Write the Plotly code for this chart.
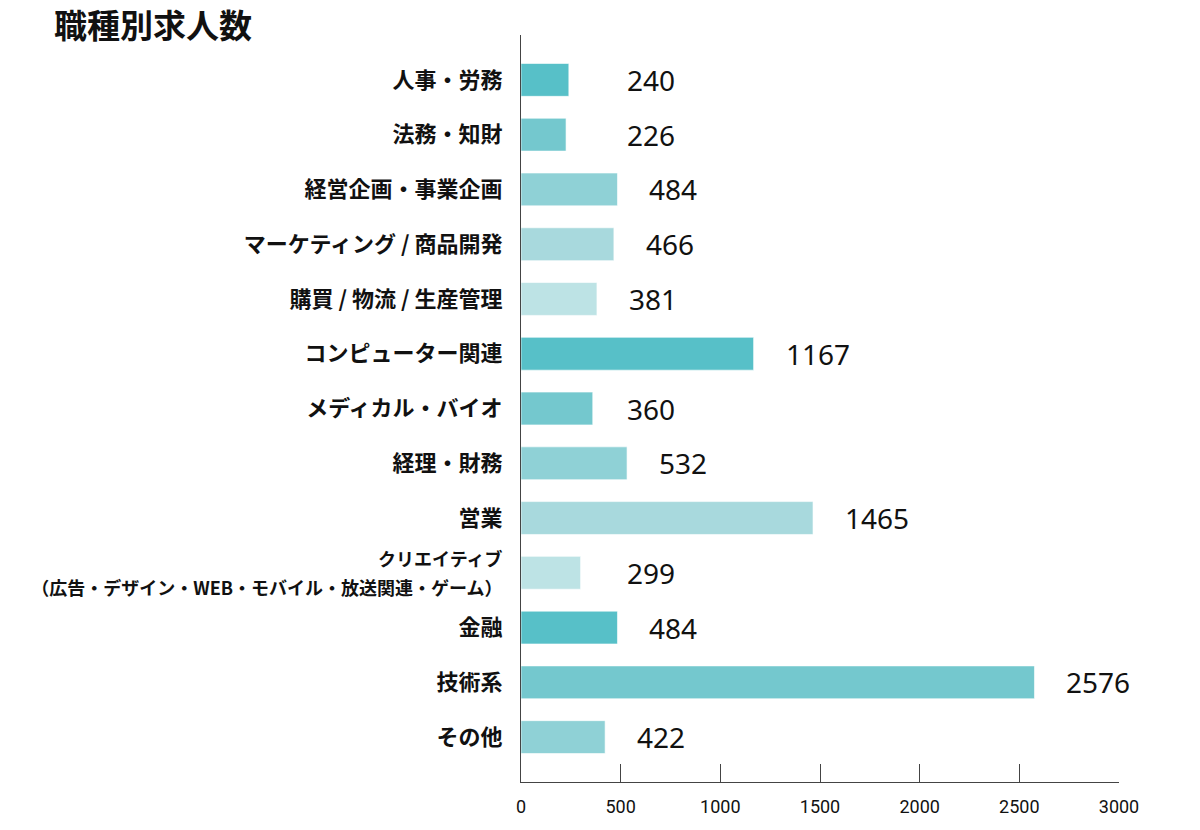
import plotly.graph_objects as go

categories = [
    "人事・労務",
    "法務・知財",
    "経営企画・事業企画",
    "マーケティング / 商品開発",
    "購買 / 物流 / 生産管理",
    "コンピューター関連",
    "メディカル・バイオ",
    "経理・財務",
    "営業",
    "クリエイティブ<br>（広告・デザイン・WEB・モバイル・放送関連・ゲーム）",
    "金融",
    "技術系",
    "その他",
]
values = [240, 226, 484, 466, 381, 1167, 360, 532, 1465, 299, 484, 2576, 422]
palette = ["#57c0c8", "#74c8ce", "#8fd1d6", "#a8d9dd", "#bde3e5"]
tick_vals = [0, 500, 1000, 1500, 2000, 2500, 3000]

colors = [palette[i % len(palette)] for i in range(len(values))]
idx = list(range(len(categories)))


def label(c):
    if "<br>" in c:
        return "<b><span style='font-size:18px'>" + c + "</span></b>"
    return "<b>" + c + "</b>"


L, R, T, B = 513, 89, 27, 56
PW, PH = 1200 - L - R, 830 - T - B

fig = go.Figure()
fig.add_trace(go.Bar(
    x=values, y=idx, orientation="h",
    marker=dict(color=colors, line=dict(width=1, color="rgba(255,255,255,0.6)")),
    width=0.6, hoverinfo="x+y",
))

for i, v in enumerate(values):
    fig.add_annotation(
        x=max(v + 150, 522), y=i, xref="x", yref="y",
        text=str(v), showarrow=False, xanchor="left", yanchor="middle",
        font=dict(family="Noto Sans, sans-serif", size=28, color="#111"),
    )

fig.add_annotation(
    x=(44 - L) / PW, y=1 + (T - 16) / PH, xref="paper", yref="paper",
    text="<b>職種別求人数</b>", showarrow=False, xanchor="left", yanchor="middle",
    font=dict(family="Noto Sans CJK JP", size=33, color="#111"),
)

fig.update_layout(
    width=1200, height=830,
    margin=dict(l=L, r=R, t=T, b=B, autoexpand=False),
    paper_bgcolor="white", plot_bgcolor="white",
    showlegend=False,
    xaxis=dict(
        range=[0, 3000], tickvals=tick_vals, ticktext=[str(t) for t in tick_vals],
        showgrid=False, zeroline=False, showline=True, linecolor="#444", linewidth=1,
        ticks="inside", ticklen=18, tickcolor="#444", tickwidth=1,
        ticklabelstandoff=8,
        tickfont=dict(family="Roboto, sans-serif", size=18, color="#111"),
        automargin=False, fixedrange=True,
    ),
    yaxis=dict(
        tickvals=idx, ticktext=[label(c) for c in categories],
        range=[len(values) - 1 + 0.82, -0.82],
        showgrid=False, zeroline=False, showline=True, linecolor="#444", linewidth=1,
        ticks="", ticklabelstandoff=13,
        tickfont=dict(family="Noto Sans CJK JP", size=22, color="#111"),
        automargin=False, fixedrange=True,
    ),
)

fig.write_html("out.html")
